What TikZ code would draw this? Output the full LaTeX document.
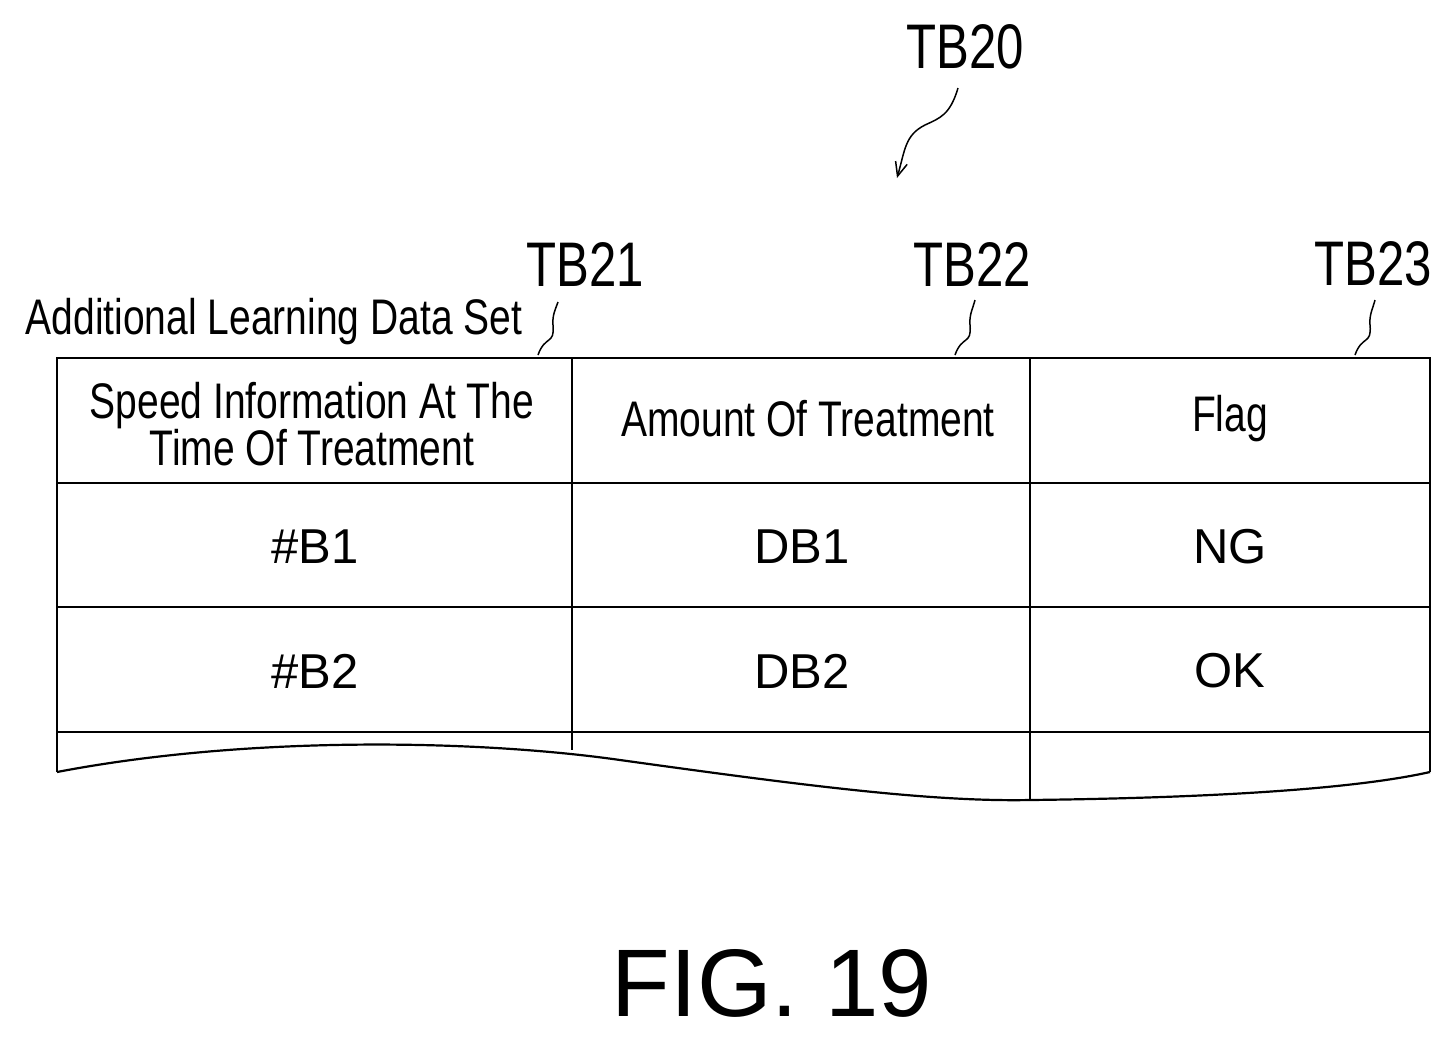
\documentclass[tikz,border=0pt]{standalone}
\usepackage{fontspec}
\usetikzlibrary{arrows.meta}
\setmainfont{Liberation Sans}
\newfontfamily\narrow[FakeStretch=0.78]{Liberation Sans}
\begin{document}
\begin{tikzpicture}[x=1pt,y=-1pt,line width=2.2pt,
  lab/.style={font=\narrow\fontsize{63}{70}\selectfont,inner sep=0},
  hd/.style={font=\narrow\fontsize{50}{47}\selectfont,align=center,inner sep=0},
  cell/.style={font=\fontsize{49}{56}\selectfont,inner sep=0}]
\useasboundingbox (0,0) rectangle (1453,1037);
% grid
\draw (57,772) -- (57,358) -- (1430,358) -- (1430,772);
\draw (57,483) -- (1430,483);
\draw (57,607) -- (1430,607);
\draw (57,732) -- (1430,732);
\draw (572,358) -- (572,750);
\draw (1030,358) -- (1030,800);
\draw (57,772) .. controls (250,735) and (480,740) .. (620,760) .. controls (800,785) and (930,802) .. (1030,800) .. controls (1200,798) and (1350,790) .. (1430,772);
% texts
\node[hd] (h1) at (312,424) {Speed Information At The\\Time Of Treatment};
\node[hd] (h2) at (808,419) {Amount Of Treatment};
\node[hd] (h3) at (1230,419) {Flag};
\node[cell] (a1) at (315,547) {\#B1};
\node[cell] (b1) at (802,547) {DB1};
\node[cell] (c1) at (1230,547) {NG};
\node[cell] (a2) at (315,671) {\#B2};
\node[cell] (b2) at (802,671) {DB2};
\node[cell] (c2) at (1230,671) {OK};
\node[font=\narrow\fontsize{50}{56}\selectfont,inner sep=0] (ds) at (274,322) {Additional Learning Data Set};
\node[lab] (t21) at (585,264) {TB21};
\node[lab] (t22) at (972,264) {TB22};
\node[lab] (t23) at (1373,264) {TB23};
\node[lab] (t20) at (965,47) {TB20};
\node[font=\fontsize{96}{104}\selectfont,inner sep=0] (fig) at (772,983) {FIG. 19};
% leaders
\draw[line width=1.5pt] (538,355) .. controls (545,335) and (555,345) .. (553,325) .. controls (552,315) and (556,308) .. (558,302);
\draw[line width=1.5pt] (955,355) .. controls (962,335) and (972,345) .. (970,325) .. controls (969,315) and (973,308) .. (975,300);
\draw[line width=1.5pt] (1355,355) .. controls (1362,335) and (1372,345) .. (1370,325) .. controls (1369,315) and (1373,308) .. (1375,300);
\coordinate (a0) at (958,88);
\coordinate (a9) at (897,178);
\draw[line width=1.5pt,-{Straight Barb[length=14pt,width=12pt]}] (a0) .. controls (950,115) and (940,118) .. (925,125) .. controls (905,135) and (905,150) .. (a9);
\end{tikzpicture}
\end{document}
